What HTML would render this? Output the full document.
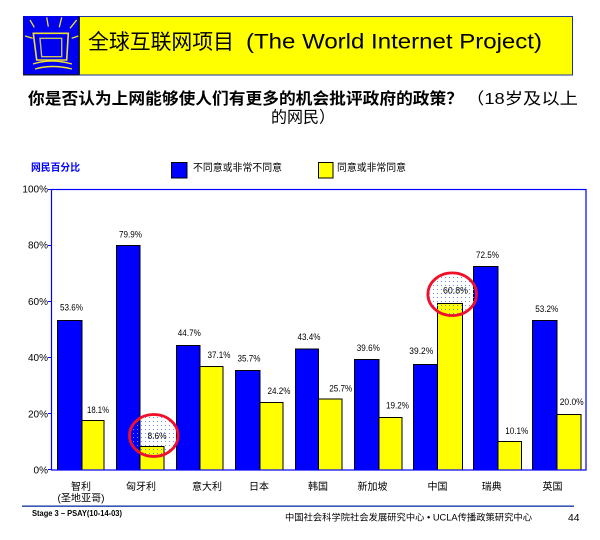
<!DOCTYPE html>
<html><head><meta charset="utf-8"><style>
html,body{margin:0;padding:0;background:#fff;}
svg{display:block;}
text{font-family:"Liberation Sans","Noto Sans CJK SC",sans-serif;}
</style></head><body>
<svg width="600" height="540" viewBox="0 0 600 540" xmlns="http://www.w3.org/2000/svg">
<defs>
<pattern id="dots" x="0" y="0" width="4" height="4" patternUnits="userSpaceOnUse"><rect x="1" y="1" width="1" height="1" fill="#5b93ff"/></pattern>
</defs>
<!-- Title bar -->
<rect x="79.5" y="16.5" width="493" height="58.5" fill="#ffff00" stroke="#1b35a8" stroke-width="1"/>
<rect x="23" y="16" width="56.5" height="59.5" fill="#0000f0"/>
<rect x="23" y="74" width="56.5" height="1.5" fill="#101040"/>
<rect x="78" y="16" width="1.5" height="59.5" fill="#101040"/>
<g stroke="#f0e030" stroke-width="1.3" fill="none">
<line x1="30" y1="20" x2="34.3" y2="27.3"/>
<line x1="46.7" y1="17.3" x2="48.3" y2="26.7"/>
<line x1="61.7" y1="17.3" x2="59.3" y2="27.3"/>
<line x1="76.7" y1="20" x2="70" y2="28.3"/>
<line x1="25" y1="36" x2="32.7" y2="38.3"/>
<line x1="71.7" y1="38.3" x2="78.3" y2="36"/>
<path d="M33.3 33.3 L68.3 33.3 L66.7 60 L36.7 60 Z" stroke-width="1.6"/>
<path d="M40 38.3 L61.7 38.3 L61.7 56.7 L41.7 56.7 Z" stroke="#c8c060" stroke-width="1.4"/>
<path d="M33 64 Q51 58 72 64" stroke-width="1.4"/>
<path d="M35 69 Q52 64 72 69" stroke-width="1.4"/>
</g>
<text x="88" y="49" font-size="21" font-family="'Noto Serif CJK SC','Noto Sans CJK SC',serif" textLength="146" lengthAdjust="spacingAndGlyphs" fill="#000">全球互联网项目</text>
<text x="246" y="48.5" font-size="21" textLength="296" lengthAdjust="spacingAndGlyphs" fill="#000">(The World Internet Project)</text>
<!-- Subtitle -->
<text x="28" y="104" font-size="16" font-weight="bold" textLength="435" lengthAdjust="spacingAndGlyphs" fill="#000">你是否认为上网能够使人们有更多的机会批评政府的政策？</text>
<text x="466" y="104" font-size="16" textLength="112" lengthAdjust="spacingAndGlyphs" fill="#000">（18岁及以上</text>
<text x="271" y="122.5" font-size="16" textLength="64" lengthAdjust="spacingAndGlyphs" fill="#000">的网民）</text>
<!-- Legend -->
<text x="31" y="171" font-size="10" font-weight="bold" fill="#0000ff" textLength="49" lengthAdjust="spacingAndGlyphs">网民百分比</text>
<rect x="171.5" y="162.5" width="15.5" height="15.5" fill="#0000ff" stroke="#000" stroke-width="1"/>
<text x="193" y="171" font-size="10" textLength="89" lengthAdjust="spacingAndGlyphs" fill="#000">不同意或非常不同意</text>
<rect x="318.5" y="162.5" width="14.5" height="15.5" fill="#ffff00" stroke="#000" stroke-width="1"/>
<text x="337" y="171" font-size="10" textLength="69" lengthAdjust="spacingAndGlyphs" fill="#000">同意或非常同意</text>
<!-- Y axis labels and ticks -->
<g font-size="10" text-anchor="end" fill="#000">
<text x="48" y="192.5">100%</text>
<text x="48" y="248.7">80%</text>
<text x="48" y="304.9">60%</text>
<text x="48" y="361.1">40%</text>
<text x="48" y="417.3">20%</text>
<text x="48" y="473.5">0%</text>
</g>
<g stroke="#0000ff" stroke-width="1">
<line x1="48" y1="189.5" x2="51" y2="189.5"/>
<line x1="48" y1="245.5" x2="51" y2="245.5"/>
<line x1="48" y1="301.5" x2="51" y2="301.5"/>
<line x1="48" y1="357.5" x2="51" y2="357.5"/>
<line x1="48" y1="413.5" x2="51" y2="413.5"/>
<line x1="48" y1="469.5" x2="51" y2="469.5"/>
</g>
<!-- Bars -->
<g stroke="#000" stroke-width="1">
<rect x="57.5" y="320.5" width="24.5" height="149.5" fill="#0000ff"/>
<rect x="82" y="420.5" width="22" height="49.5" fill="#ffff00"/>
<rect x="116.5" y="245.5" width="23.5" height="224.5" fill="#0000ff"/>
<rect x="140" y="446.5" width="24" height="23.5" fill="#ffff00"/>
<rect x="176.5" y="345.5" width="23.5" height="124.5" fill="#0000ff"/>
<rect x="200" y="366.5" width="23" height="103.5" fill="#ffff00"/>
<rect x="235.5" y="370.5" width="24.5" height="99.5" fill="#0000ff"/>
<rect x="260" y="402.5" width="23" height="67.5" fill="#ffff00"/>
<rect x="295.5" y="349" width="23" height="121" fill="#0000ff"/>
<rect x="318.5" y="399" width="23.5" height="71" fill="#ffff00"/>
<rect x="354.5" y="359.5" width="24.5" height="110.5" fill="#0000ff"/>
<rect x="379" y="417.5" width="23" height="52.5" fill="#ffff00"/>
<rect x="413.5" y="364.5" width="24" height="105.5" fill="#0000ff"/>
<rect x="437.5" y="303.5" width="25" height="166.5" fill="#ffff00"/>
<rect x="473.5" y="266.5" width="24.5" height="203.5" fill="#0000ff"/>
<rect x="498" y="441.5" width="23.5" height="28.5" fill="#ffff00"/>
<rect x="532.5" y="320.5" width="24.5" height="149.5" fill="#0000ff"/>
<rect x="557" y="414.5" width="24" height="55.5" fill="#ffff00"/>
</g>
<!-- plot frame -->
<rect x="51.5" y="189.5" width="534.5" height="280.5" fill="none" stroke="#0000ff" stroke-width="1.2"/>
<!-- highlight ellipses -->
<ellipse cx="153.8" cy="435.5" rx="24.3" ry="21" fill="url(#dots)"/>
<ellipse cx="153.8" cy="435.5" rx="24.3" ry="21" fill="none" stroke="#f0102a" stroke-width="2.8"/>
<ellipse cx="452.2" cy="294.2" rx="24.3" ry="21.3" fill="url(#dots)"/>
<ellipse cx="452.2" cy="294.2" rx="24.3" ry="21.3" fill="none" stroke="#f0102a" stroke-width="2.8"/>
<!-- Value labels -->
<g font-size="9" text-anchor="middle" fill="#000">
<text x="71.5" y="310.5" textLength="23" lengthAdjust="spacingAndGlyphs">53.6%</text>
<text x="98" y="412.8" textLength="22" lengthAdjust="spacingAndGlyphs">18.1%</text>
<text x="130.5" y="237.5" textLength="23" lengthAdjust="spacingAndGlyphs">79.9%</text>
<text x="157" y="439.2" textLength="19" lengthAdjust="spacingAndGlyphs">8.6%</text>
<text x="189.3" y="335.8" textLength="23" lengthAdjust="spacingAndGlyphs">44.7%</text>
<text x="219" y="358.2" textLength="23" lengthAdjust="spacingAndGlyphs">37.1%</text>
<text x="249" y="361.5" textLength="23" lengthAdjust="spacingAndGlyphs">35.7%</text>
<text x="279" y="394.2" textLength="23" lengthAdjust="spacingAndGlyphs">24.2%</text>
<text x="309" y="340.2" textLength="23" lengthAdjust="spacingAndGlyphs">43.4%</text>
<text x="340.7" y="391.5" textLength="23" lengthAdjust="spacingAndGlyphs">25.7%</text>
<text x="368.3" y="351.2" textLength="23" lengthAdjust="spacingAndGlyphs">39.6%</text>
<text x="397.5" y="408.5" textLength="23" lengthAdjust="spacingAndGlyphs">19.2%</text>
<text x="421.3" y="353.8" textLength="24" lengthAdjust="spacingAndGlyphs">39.2%</text>
<text x="455.5" y="293.5" textLength="25" lengthAdjust="spacingAndGlyphs">60.8%</text>
<text x="487.5" y="258.2" textLength="23" lengthAdjust="spacingAndGlyphs">72.5%</text>
<text x="516.7" y="434.2" textLength="23" lengthAdjust="spacingAndGlyphs">10.1%</text>
<text x="546.7" y="312.2" textLength="23" lengthAdjust="spacingAndGlyphs">53.2%</text>
<text x="571.7" y="405.2" textLength="24" lengthAdjust="spacingAndGlyphs">20.0%</text>
</g>
<!-- Category labels -->
<g font-size="10" text-anchor="middle" fill="#000">
<text x="81" y="490">智利</text>
<text x="81" y="501.5" textLength="47" lengthAdjust="spacingAndGlyphs">(圣地亚哥)</text>
<text x="141" y="490">匈牙利</text>
<text x="207" y="490">意大利</text>
<text x="259" y="490">日本</text>
<text x="318" y="490">韩国</text>
<text x="372.5" y="490">新加坡</text>
<text x="437.5" y="490">中国</text>
<text x="491.7" y="490">瑞典</text>
<text x="552.5" y="490">英国</text>
</g>
<!-- Footer -->
<rect x="22" y="505.5" width="552" height="1.3" fill="#0a2fa0"/>
<text x="32" y="516" font-size="8" font-weight="bold" font-family="'Liberation Serif',serif" textLength="90" lengthAdjust="spacingAndGlyphs" fill="#000">Stage 3 – PSAY(10-14-03)</text>
<text x="285" y="520.5" font-size="9" textLength="247" lengthAdjust="spacingAndGlyphs" fill="#000">中国社会科学院社会发展研究中心 • UCLA传播政策研究中心</text>
<text x="568" y="521" font-size="10" textLength="11.5" lengthAdjust="spacingAndGlyphs" fill="#000">44</text>
</svg>
</body></html>
